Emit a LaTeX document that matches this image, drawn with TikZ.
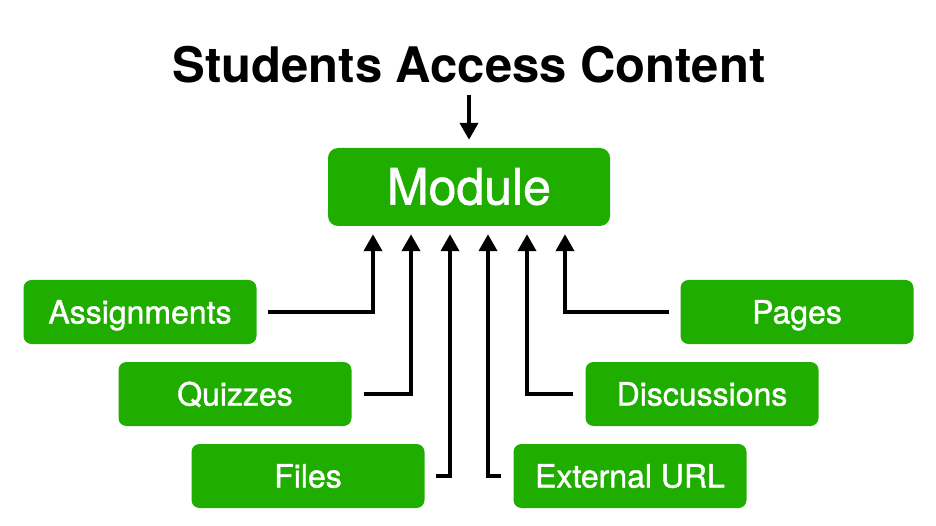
\documentclass[tikz,border=0pt]{standalone}
\usepackage{fontspec}
\setmainfont{TeX Gyre Heros}
\newfontfamily\medfont[FakeBold=1.2]{TeX Gyre Heros}
\definecolor{modgreen}{RGB}{31,174,0}
\usetikzlibrary{arrows.meta,positioning}

\begin{document}
\begin{tikzpicture}[x=1pt,y=-1pt,
  itembox/.style={fill=modgreen, rounded corners=8pt, minimum width=233pt, minimum height=64pt, inner sep=0pt, text height=23pt, text depth=0pt, text=white, font=\medfont\fontsize{32}{38}\selectfont},
  feed/.style={line width=4pt, -{Triangle[length=17pt,width=18pt]}}]
  \useasboundingbox (0,0) rectangle (936,526);

  % title and module
  \node[inner sep=0pt, font=\fontsize{49}{56}\selectfont\bfseries] (title) at (469,65) {Students Access Content};
  \node[itembox, minimum width=282pt, minimum height=78pt, rounded corners=10pt, text height=35pt, font=\medfont\fontsize{50}{60}\selectfont] (module) at (469,187) {Module};
  \draw[feed, shorten <=11pt] (title.south) -- ([yshift=8pt]module.north);

  % left items
  \node[itembox] (assign) at (140,312) {Assignments};
  \node[itembox] (quiz) at (235,394) {Quizzes};
  \node[itembox] (files) at (308,476) {Files};

  % right items
  \node[itembox] (pages) at (797,312) {Pages};
  \node[itembox] (discuss) at (702,394) {Discussions};
  \node[itembox] (url) at (630,476) {External URL};

  % connectors into the module
  \draw[feed] ([xshift=11pt]assign.east) -| ([xshift=-96pt,yshift=-8pt]module.south);
  \draw[feed] ([xshift=12pt]quiz.east) -| ([xshift=-58pt,yshift=-8pt]module.south);
  \draw[feed] ([xshift=11pt]files.east) -| ([xshift=-19pt,yshift=-8pt]module.south);
  \draw[feed] ([xshift=-12pt]url.west) -| ([xshift=19pt,yshift=-8pt]module.south);
  \draw[feed] ([xshift=-12pt]discuss.west) -| ([xshift=58pt,yshift=-8pt]module.south);
  \draw[feed] ([xshift=-11pt]pages.west) -| ([xshift=96pt,yshift=-8pt]module.south);
\end{tikzpicture}
\end{document}
